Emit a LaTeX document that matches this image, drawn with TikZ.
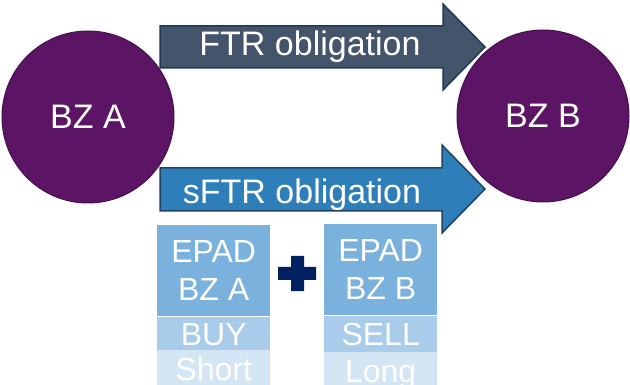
\documentclass[tikz,border=0pt]{standalone}
\usepackage{fontspec}
\setmainfont{Liberation Sans}
\usetikzlibrary{positioning}
\definecolor{zonepurple}{RGB}{92,20,100}
\definecolor{zoneedge}{RGB}{70,14,78}
\definecolor{ftrfill}{RGB}{68,84,106}
\definecolor{ftredge}{RGB}{28,58,88}
\definecolor{sftrfill}{RGB}{46,126,185}
\definecolor{sftredge}{RGB}{30,66,104}
\definecolor{epadfill}{RGB}{122,178,221}
\definecolor{buyfill}{RGB}{168,204,233}
\definecolor{posfill}{RGB}{212,230,244}
\definecolor{plusnavy}{RGB}{0,32,96}
\begin{document}
\begin{tikzpicture}[x=1pt,y=-1pt,
  zone/.style={circle,fill=zonepurple,draw=zoneedge,line width=1pt,minimum size=172pt,
    text=white,font=\fontsize{34}{38}\selectfont},
  label/.style={text=white,inner sep=0pt,text height=24pt,text depth=0pt,
    font=\fontsize{34}{38}\selectfont},
  epad/.style={fill=epadfill,text=white,inner sep=0pt,minimum width=113pt,minimum height=91pt,
    align=center,font=\fontsize{32}{38}\selectfont},
  row/.style={text=white,inner sep=0pt,minimum width=113pt,text height=24pt,text depth=0pt,
    font=\fontsize{32}{38}\selectfont}]
\useasboundingbox (0,0) rectangle (630,385);
% zones
\node[zone] (bza) at (88,117) {BZ A};
\node[zone] (bzb) at (543,116) {BZ B};
% block arrows
\draw[fill=ftrfill,draw=ftredge,line width=1.5pt,line join=miter]
  (160,26) -- (443,26) -- (443,4) -- (485,47) -- (443,90) -- (443,68) -- (160,68) -- cycle;
\draw[fill=sftrfill,draw=sftredge,line width=1.5pt,line join=miter]
  (160,168) -- (442,168) -- (442,145) -- (485,189) -- (442,233) -- (442,211) -- (160,211) -- cycle;
\node[label] (ftr) at (310,44) {FTR obligation};
\node[label] (sftr) at (302,192) {sFTR obligation};
% EPAD products
\node[epad,anchor=north west] (epada) at (157,225) {EPAD\\BZ A};
\node[row,fill=buyfill,minimum height=33pt,below=0pt of epada] (buy) {BUY};
\node[row,fill=posfill,minimum height=36pt,below=0pt of buy] (short) {Short};
\node[epad,anchor=north west] (epadb) at (324,224) {EPAD\\BZ B};
\node[row,fill=buyfill,minimum height=36pt,below=0pt of epadb] (sell) {SELL};
\node[row,fill=posfill,minimum height=36pt,below=0pt of sell] (long) {Long};
% plus
\fill[plusnavy] (291,256) -- (304,256) -- (304,267) -- (316,267) -- (316,280) -- (304,280)
  -- (304,291) -- (291,291) -- (291,280) -- (278,280) -- (278,267) -- (291,267) -- cycle;
\end{tikzpicture}
\end{document}
